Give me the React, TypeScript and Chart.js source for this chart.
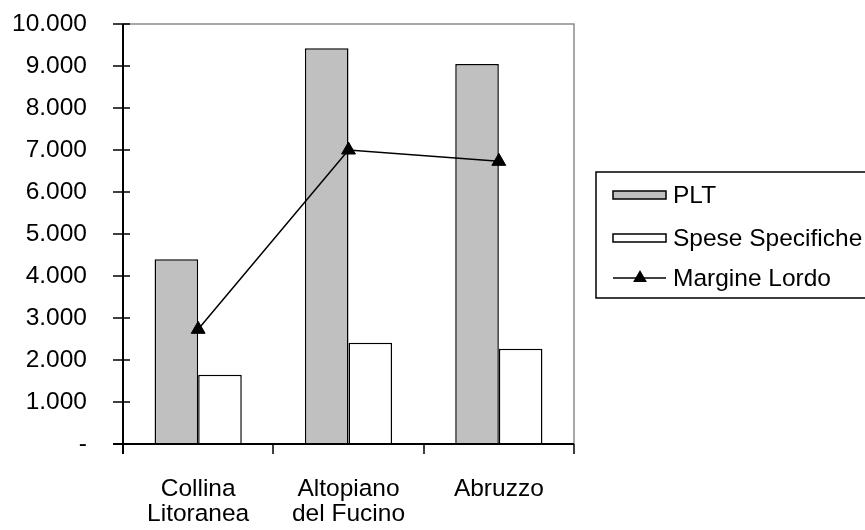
import React, { useEffect, useRef } from 'react';
import { Chart, registerables } from 'chart.js';

Chart.register(...registerables);

const categories = [['Collina', 'Litoranea'], ['Altopiano', 'del Fucino'], ['Abruzzo']];
const seriesNames = ['PLT', 'Spese Specifiche', 'Margine Lordo'];
const pltValues = [4400, 9420, 9050];
const speseValues = [1650, 2410, 2270];
const margineValues = [2730, 7000, 6730];
const yTickValues = [0, 1000, 2000, 3000, 4000, 5000, 6000, 7000, 8000, 9000, 10000];
const yTickLabels = ['-', '1.000', '2.000', '3.000', '4.000', '5.000', '6.000', '7.000', '8.000', '9.000', '10.000'];

const FONT = '"Liberation Sans", Arial, sans-serif';
const FONT_SIZE = 24.5;

const framePlugin = {
  id: 'frame',
  beforeDatasetsDraw(chart: any) {
    const { ctx, chartArea } = chart;
    ctx.save();
    ctx.strokeStyle = '#8c8c8c';
    ctx.lineWidth = 1.5;
    ctx.strokeRect(chartArea.left, chartArea.top, chartArea.right - chartArea.left, chartArea.bottom - chartArea.top);
    ctx.restore();
  },
  afterDatasetsDraw(chart: any) {
    const { ctx, chartArea } = chart;
    const x = chart.scales.x;
    const y = chart.scales.y;
    ctx.save();
    ctx.strokeStyle = '#000';
    ctx.lineWidth = 2;
    ctx.beginPath();
    ctx.moveTo(chartArea.left, chartArea.top);
    ctx.lineTo(chartArea.left, chartArea.bottom + 10);
    ctx.moveTo(chartArea.left - 10, chartArea.bottom);
    ctx.lineTo(chartArea.right, chartArea.bottom);
    ctx.stroke();
    ctx.lineWidth = 1.5;
    ctx.beginPath();
    yTickValues.forEach((v) => {
      const py = Math.round(y.getPixelForValue(v));
      ctx.moveTo(chartArea.left - 10, py);
      ctx.lineTo(chartArea.left + 7, py);
    });
    for (let i = 0; i <= categories.length; i++) {
      const px = Math.round(x.getPixelForValue(i - 0.5));
      ctx.moveTo(px, chartArea.bottom);
      ctx.lineTo(px, chartArea.bottom + 10);
    }
    ctx.stroke();
    ctx.restore();
  },
};

const legendPlugin = {
  id: 'customLegend',
  afterDraw(chart: any) {
    const { ctx } = chart;
    const ds = chart.data.datasets;
    const boxL = 596, boxT = 172, boxB = 298;
    ctx.save();
    ctx.fillStyle = '#fff';
    ctx.fillRect(boxL, boxT, 280, boxB - boxT);
    ctx.strokeStyle = '#000';
    ctx.lineWidth = 1.5;
    ctx.strokeRect(boxL, boxT, 280, boxB - boxT);
    const rows = [195, 238, 278];
    ctx.font = `${FONT_SIZE}px ${FONT}`;
    ctx.textBaseline = 'middle';
    ctx.textAlign = 'left';
    ds.forEach((d: any, i: number) => {
      const cy = rows[i];
      if (d.type === 'line') {
        ctx.strokeStyle = '#000';
        ctx.lineWidth = 1.5;
        ctx.beginPath();
        ctx.moveTo(613, cy);
        ctx.lineTo(666, cy);
        ctx.stroke();
        const r = 8;
        const cx = 640;
        ctx.fillStyle = '#000';
        ctx.beginPath();
        ctx.moveTo(cx, cy - r);
        ctx.lineTo(cx + r * 0.866, cy + r / 2);
        ctx.lineTo(cx - r * 0.866, cy + r / 2);
        ctx.closePath();
        ctx.fill();
      } else {
        ctx.fillStyle = d.backgroundColor;
        ctx.fillRect(613, cy - 4, 53, 8);
        ctx.strokeStyle = '#000';
        ctx.lineWidth = 1.5;
        ctx.strokeRect(613, cy - 4, 53, 8);
      }
      ctx.fillStyle = '#000';
      ctx.fillText(d.label, 673, cy + 1);
    });
    ctx.restore();
  },
};

export default function App() {
  const ref = useRef<HTMLCanvasElement | null>(null);
  useEffect(() => {
    if (!ref.current) return;
    const chart = new Chart(ref.current, {
      type: 'bar',
      data: {
        labels: categories as any,
        datasets: [
          {
            type: 'bar',
            label: seriesNames[0],
            data: pltValues,
            backgroundColor: '#c0c0c0',
            borderColor: '#000',
            borderWidth: 1.5,
            categoryPercentage: 0.58,
            barPercentage: 1,
            order: 1,
          },
          {
            type: 'bar',
            label: seriesNames[1],
            data: speseValues,
            backgroundColor: '#ffffff',
            borderColor: '#000',
            borderWidth: 1.5,
            categoryPercentage: 0.58,
            barPercentage: 1,
            order: 2,
          },
          {
            type: 'line',
            label: seriesNames[2],
            data: margineValues,
            borderColor: '#000',
            borderWidth: 1.5,
            backgroundColor: '#000',
            pointStyle: 'triangle',
            pointRadius: 8,
            pointBackgroundColor: '#000',
            pointBorderColor: '#000',
            pointBorderWidth: 1,
            tension: 0,
            order: 0,
          } as any,
        ],
      },
      options: {
        animation: false,
        responsive: false,
        devicePixelRatio: 1,
        layout: { padding: { left: 0, top: 24, right: 291, bottom: 0 } },
        plugins: {
          legend: { display: false },
          tooltip: { enabled: false },
        },
        scales: {
          x: {
            type: 'category',
            offset: true,
            grid: { display: false, drawTicks: true, tickLength: 33 },
            border: { display: false },
            ticks: {
              color: '#000',
              font: { family: FONT, size: FONT_SIZE, lineHeight: 1.0 },
              padding: 0,
              maxRotation: 0,
              autoSkip: false,
            },
            afterFit: (s: any) => {
              s.height = 86;
            },
          },
          y: {
            min: 0,
            max: 10000,
            grid: { display: false, drawTicks: true, tickLength: 36 },
            border: { display: false },
            afterBuildTicks: (s: any) => {
              s.ticks = yTickValues.map((v) => ({ value: v }));
            },
            ticks: {
              color: '#000',
              font: { family: FONT, size: FONT_SIZE },
              padding: 0,
              callback: (v: any) => yTickLabels[yTickValues.indexOf(Number(v))],
            },
            afterFit: (s: any) => {
              s.width = 123;
            },
          },
        },
      },
      plugins: [framePlugin, legendPlugin],
    });
    return () => chart.destroy();
  }, []);
  return (
    <div style={{ position: 'absolute', left: 0, top: 0, width: 865, height: 530, background: '#fff' }}>
      <canvas ref={ref} width={865} height={530} style={{ width: 865, height: 530 }} />
    </div>
  );
}
